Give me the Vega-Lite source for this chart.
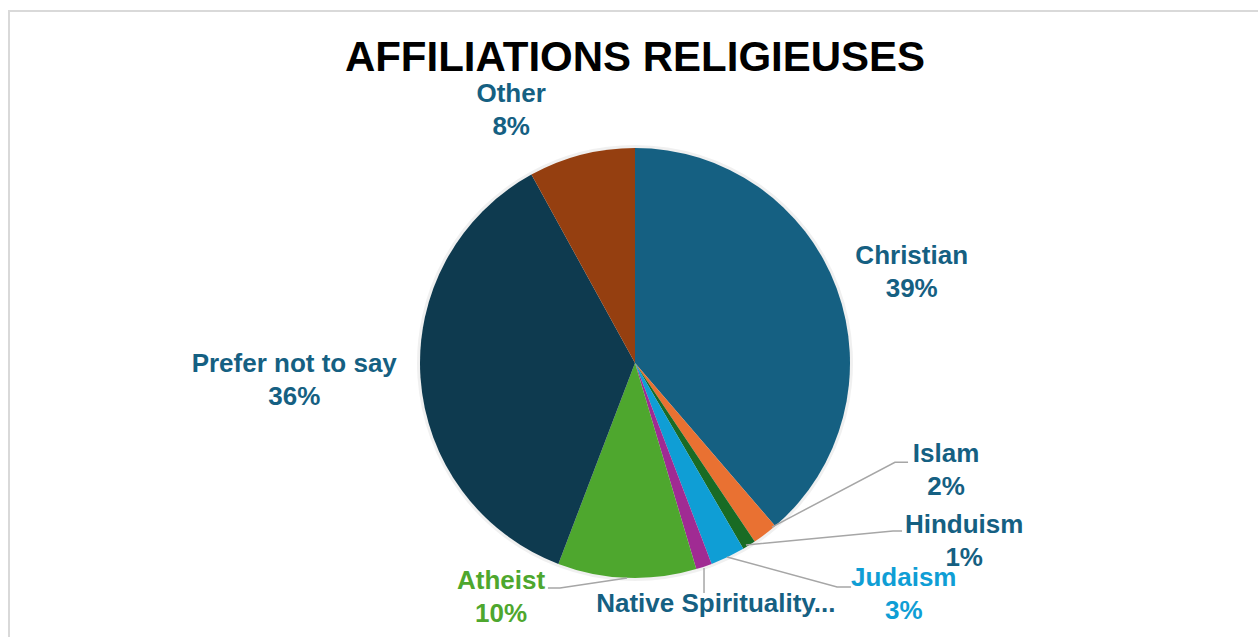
{
  "$schema": "https://vega.github.io/schema/vega-lite/v6.json",
  "width": 1252,
  "height": 629,
  "autosize": "none",
  "padding": {"left": 9, "top": 11, "right": 0, "bottom": 0},
  "background": "#ffffff",
  "config": {"view": {"stroke": "#d9d9d9", "strokeWidth": 2}},
  "title": {
    "text": "AFFILIATIONS RELIGIEUSES",
    "font": "Liberation Sans",
    "fontSize": 42,
    "fontWeight": "bold",
    "color": "#000000",
    "anchor": "middle",
    "baseline": "alphabetic",
    "offset": -102
  },
  "datasets": {
    "religion": [
      {"category": "Christian", "value": 0.387},
      {"category": "Islam", "value": 0.019},
      {"category": "Hinduism", "value": 0.010},
      {"category": "Judaism", "value": 0.026},
      {"category": "Native Spirituality", "value": 0.012},
      {"category": "Atheist", "value": 0.104},
      {"category": "Prefer not to say", "value": 0.362},
      {"category": "Other", "value": 0.080}
    ],
    "labels": [
      {"category": "Christian", "lx": 1.287, "ly": 0.496},
      {"category": "Islam", "lx": 1.447, "ly": -0.424},
      {"category": "Hinduism", "lx": 1.531, "ly": -0.752},
      {"category": "Judaism", "lx": 1.250, "ly": -1.002},
      {"category": "Native Spirituality", "lx": 0.376, "ly": -1.119},
      {"category": "Atheist", "lx": -0.623, "ly": -1.015},
      {"category": "Prefer not to say", "lx": -1.585, "ly": -0.004},
      {"category": "Other", "lx": -0.576, "ly": 1.249}
    ],
    "leaders": [
      {"category": "Islam", "i": 0, "x": 0.637, "y": -0.763},
      {"category": "Islam", "i": 1, "x": 1.209, "y": -0.462},
      {"category": "Islam", "i": 2, "x": 1.270, "y": -0.462},
      {"category": "Hinduism", "i": 0, "x": 0.516, "y": -0.847},
      {"category": "Hinduism", "i": 1, "x": 1.200, "y": -0.781},
      {"category": "Hinduism", "i": 2, "x": 1.242, "y": -0.781},
      {"category": "Judaism", "i": 0, "x": 0.428, "y": -0.902},
      {"category": "Judaism", "i": 1, "x": 0.940, "y": -1.042},
      {"category": "Judaism", "i": 2, "x": 1.005, "y": -1.042},
      {"category": "Native Spirituality", "i": 0, "x": 0.321, "y": -0.953},
      {"category": "Native Spirituality", "i": 1, "x": 0.321, "y": -1.070},
      {"category": "Atheist", "i": 0, "x": -0.037, "y": -1.0},
      {"category": "Atheist", "i": 1, "x": -0.349, "y": -1.047},
      {"category": "Atheist", "i": 2, "x": -0.405, "y": -1.047}
    ]
  },
  "layer": [
    {
      "data": {"name": "religion"},
      "transform": [
        {"calculate": "indexof(['Christian', 'Islam', 'Hinduism', 'Judaism', 'Native Spirituality', 'Atheist', 'Prefer not to say', 'Other'], datum.category)", "as": "rank"}
      ],
      "layer": [
        {
          "mark": {"type": "arc", "outerRadius": 218, "fill": "#000000", "fillOpacity": 0.06}
        },
        {
          "mark": {"type": "arc", "outerRadius": 215},
          "encoding": {
            "color": {
              "field": "category",
              "type": "nominal",
              "scale": {
                "domain": ["Christian", "Islam", "Hinduism", "Judaism", "Native Spirituality", "Atheist", "Prefer not to say", "Other"],
                "range": ["#156082", "#e97132", "#196b24", "#0f9ed5", "#a02b93", "#4ea72e", "#0e3a4f", "#953f10"]
              },
              "legend": null
            }
          }
        }
      ],
      "encoding": {
        "x": {"datum": 0, "type": "quantitative", "scale": {"domain": [-2.91163, 2.91163], "nice": false, "zero": false}, "axis": null},
        "y": {"datum": 0, "type": "quantitative", "scale": {"domain": [-1.28837, 1.63721], "nice": false, "zero": false}, "axis": null},
        "theta": {"field": "value", "type": "quantitative", "stack": true},
        "order": {"field": "rank", "type": "quantitative", "sort": "ascending"}
      }
    },
    {
      "data": {"name": "leaders"},
      "mark": {"type": "line", "color": "#a6a6a6", "strokeWidth": 1.5},
      "encoding": {
        "x": {"field": "x", "type": "quantitative"},
        "y": {"field": "y", "type": "quantitative"},
        "detail": {"field": "category"},
        "order": {"field": "i"}
      }
    },
    {
      "data": {"name": "labels"},
      "transform": [
        {"lookup": "category", "from": {"data": {"name": "religion"}, "key": "category", "fields": ["value"]}},
        {"calculate": "datum.category === 'Native Spirituality' ? ['Native Spirituality...'] : [datum.category, format(datum.value, '.0%')]", "as": "label"}
      ],
      "mark": {"type": "text", "font": "Liberation Sans", "fontSize": 26, "fontWeight": "bold", "lineHeight": 33, "align": "center", "baseline": "middle"},
      "encoding": {
        "x": {"field": "lx", "type": "quantitative"},
        "y": {"field": "ly", "type": "quantitative"},
        "text": {"field": "label"},
        "color": {
          "condition": [
            {"test": "datum.category === 'Judaism'", "value": "#0f9ed5"},
            {"test": "datum.category === 'Atheist'", "value": "#4ea72e"}
          ],
          "value": "#156082"
        }
      }
    }
  ]
}
